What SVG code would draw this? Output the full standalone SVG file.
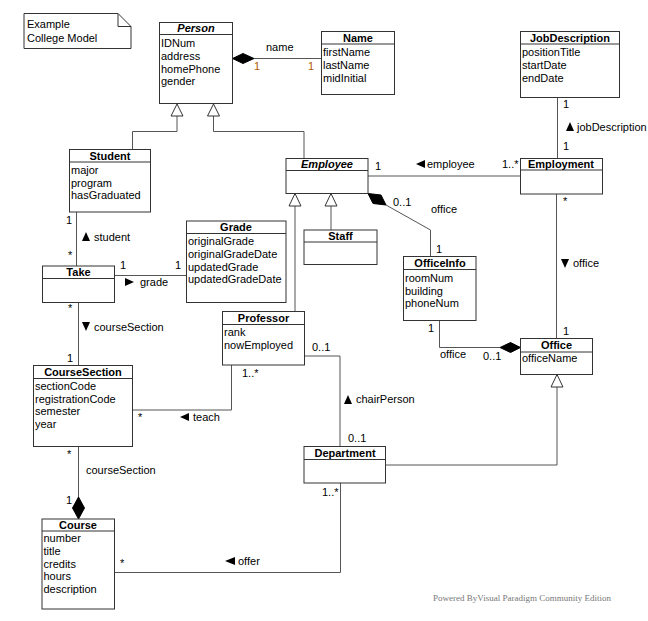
<svg xmlns="http://www.w3.org/2000/svg" width="648" height="621" viewBox="0 0 648 621">
<defs>
<style>
text{font-family:"Liberation Sans",Arial,sans-serif;font-size:11px;fill:#000}
.t{font-weight:bold;text-anchor:middle}
.ti{font-weight:bold;font-style:italic;text-anchor:middle}
.box{fill:#fff;stroke:#333;stroke-width:1}
.div{stroke:#333;stroke-width:1}
.ln{fill:none;stroke:#555;stroke-width:1}
.gen{fill:#fff;stroke:#333;stroke-width:1}
.dia{fill:#000;stroke:#000;stroke-width:1}
.or{fill:#b05a00}
.wm{font-family:"Liberation Serif","Times New Roman",serif;font-size:9px;fill:#777}
</style>
</defs>
<rect width="648" height="621" fill="#fff"/>

<g id="connectors">
<path class="ln" d="M177,116 V131.5 H132.5 V149.5"/>
<path class="ln" d="M213.5,116 V131.5 H304 V158.5"/>
<polygon class="gen" points="177,104 171,116 183,116"/>
<polygon class="gen" points="213.5,104 207.5,116 219.5,116"/>
<path class="ln" d="M254,58.5 H321.5"/>
<polygon class="dia" points="232.5,58.5 243,53.5 254,58.5 243,63.5"/>
<path class="ln" d="M557.5,97.5 V158.5"/>
<path class="ln" d="M368,176 H520.5"/>
<path class="ln" d="M556.5,194 V338.5"/>
<path class="ln" d="M386,205 L430.5,230 V256.5"/>
<polygon class="dia" points="368,193.5 381,195 386,205 373,203.5"/>
<path class="ln" d="M295,206 V311.5"/>
<path class="ln" d="M331,206 V230"/>
<polygon class="gen" points="295,193.5 289,206 301,206"/>
<polygon class="gen" points="331,193.5 325,206 337,206"/>
<path class="ln" d="M439.5,320.5 V347.5 H500"/>
<polygon class="dia" points="500,347.5 510.5,342.5 520.5,347.5 510.5,352.5"/>
<path class="ln" d="M385.5,465 H557 V387"/>
<polygon class="gen" points="557,374.5 551,387 563,387"/>
<path class="ln" d="M76.5,212 V266"/>
<path class="ln" d="M114.5,275.5 H186.5"/>
<path class="ln" d="M78.5,302.5 V365.5"/>
<path class="ln" d="M231.5,365 V410 H132.5"/>
<path class="ln" d="M304.5,356 H340 V446.5"/>
<path class="ln" d="M78.5,446.5 V497"/>
<polygon class="dia" points="78.5,497 72.5,508 78.5,519 84.5,508"/>
<path class="ln" d="M114.5,572.5 H340.5 V483"/>
</g>

<g id="labels">
<text x="266" y="51">name</text>
<text class="or" x="254" y="70">1</text>
<text class="or" x="308" y="70">1</text>

<text x="563" y="108">1</text>
<polygon points="566,131 570,122 574,131" fill="#000"/>
<text x="577" y="131">jobDescription</text>
<text x="563" y="150">1</text>

<text x="375" y="170">1</text>
<polygon points="416,164 425,160 425,168" fill="#000"/>
<text x="427" y="168">employee</text>
<text x="502" y="168">1..*</text>

<text x="393" y="206">0..1</text>
<text x="431" y="213">office</text>
<text x="436" y="253">1</text>

<text x="563" y="205">*</text>
<polygon points="561,259 569,259 565,268" fill="#000"/>
<text x="573" y="267">office</text>
<text x="563" y="335">1</text>

<text x="428" y="332">1</text>
<text x="440" y="358">office</text>
<text x="483" y="360">0..1</text>

<text x="66" y="224">1</text>
<polygon points="82,241 86,232 90,241" fill="#000"/>
<text x="94" y="241">student</text>
<text x="68" y="259">*</text>

<text x="120" y="269">1</text>
<text x="175" y="269">1</text>
<polygon points="125,278 125,286 134,282" fill="#000"/>
<text x="140" y="286">grade</text>

<text x="68" y="312">*</text>
<polygon points="82,322 90,322 86,331" fill="#000"/>
<text x="94" y="331">courseSection</text>
<text x="67" y="362">1</text>

<text x="242" y="377">1..*</text>
<text x="138" y="421">*</text>
<polygon points="180,417 189,413 189,421" fill="#000"/>
<text x="193" y="421">teach</text>

<text x="312" y="351">0..1</text>
<polygon points="344,404 348,395 352,404" fill="#000"/>
<text x="356" y="403">chairPerson</text>
<text x="348" y="442">0..1</text>

<text x="67" y="458">*</text>
<text x="86" y="474">courseSection</text>
<text x="66" y="504">1</text>

<text x="120" y="567">*</text>
<polygon points="225,561 235,557 235,565" fill="#000"/>
<text x="238" y="565">offer</text>
<text x="322" y="496">1..*</text>
</g>

<g id="note">
<path d="M24,13.5 H118 L131,26.5 V48.5 H24 Z" fill="#fff" stroke="#333"/>
<path d="M118,13.5 V26.5 H131" fill="none" stroke="#333"/>
<text x="27" y="28">Example</text>
<text x="27" y="42">College Model</text>
</g>

<g id="Person">
<rect class="box" x="159.5" y="22.5" width="73" height="81"/>
<line class="div" x1="159.5" y1="34.5" x2="232.5" y2="34.5"/>
<text class="ti" x="196" y="32">Person</text>
<text x="161" y="47">IDNum</text>
<text x="161" y="60">address</text>
<text x="161" y="73">homePhone</text>
<text x="161" y="85">gender</text>
</g>

<g id="Name">
<rect class="box" x="321.5" y="31.5" width="73" height="63"/>
<line class="div" x1="321.5" y1="44" x2="394.5" y2="44"/>
<text class="t" x="358" y="42">Name</text>
<text x="323" y="56">firstName</text>
<text x="323" y="69">lastName</text>
<text x="323" y="82">midInitial</text>
</g>

<g id="JobDescription">
<rect class="box" x="520.5" y="31.5" width="99" height="66"/>
<line class="div" x1="520.5" y1="44" x2="619.5" y2="44"/>
<text class="t" x="570" y="42">JobDescription</text>
<text x="522" y="56">positionTitle</text>
<text x="522" y="69">startDate</text>
<text x="522" y="82">endDate</text>
</g>

<g id="Student">
<rect class="box" x="69.5" y="149.5" width="81" height="62.5"/>
<line class="div" x1="69.5" y1="162" x2="150.5" y2="162"/>
<text class="t" x="110" y="160">Student</text>
<text x="71" y="174">major</text>
<text x="71" y="187">program</text>
<text x="71" y="199">hasGraduated</text>
</g>

<g id="Employee">
<rect class="box" x="286" y="158.5" width="82" height="35"/>
<line class="div" x1="286" y1="170.5" x2="368" y2="170.5"/>
<text class="ti" x="327" y="168">Employee</text>
</g>

<g id="Employment">
<rect class="box" x="520.5" y="158.5" width="82" height="35.5"/>
<line class="div" x1="520.5" y1="170" x2="602.5" y2="170"/>
<text class="t" x="561" y="168">Employment</text>
</g>

<g id="Staff">
<rect class="box" x="304" y="230" width="73" height="34.5"/>
<line class="div" x1="304" y1="242" x2="377" y2="242"/>
<text class="t" x="340.5" y="240">Staff</text>
</g>

<g id="Grade">
<rect class="box" x="186.5" y="221" width="99.5" height="81.5"/>
<line class="div" x1="186.5" y1="233.5" x2="286" y2="233.5"/>
<text class="t" x="236" y="231">Grade</text>
<text x="188" y="245">originalGrade</text>
<text x="188" y="258">originalGradeDate</text>
<text x="188" y="271">updatedGrade</text>
<text x="188" y="283">updatedGradeDate</text>
</g>

<g id="Take">
<rect class="box" x="42.5" y="266" width="72" height="36.5"/>
<line class="div" x1="42.5" y1="278.5" x2="114.5" y2="278.5"/>
<text class="t" x="78.5" y="276">Take</text>
</g>

<g id="OfficeInfo">
<rect class="box" x="403.5" y="256.5" width="72.5" height="64"/>
<line class="div" x1="403.5" y1="269.5" x2="476" y2="269.5"/>
<text class="t" x="440" y="267">OfficeInfo</text>
<text x="405" y="282">roomNum</text>
<text x="405" y="295">building</text>
<text x="405" y="307">phoneNum</text>
</g>

<g id="Professor">
<rect class="box" x="222.5" y="311.5" width="82" height="53.5"/>
<line class="div" x1="222.5" y1="324.5" x2="304.5" y2="324.5"/>
<text class="t" x="263.5" y="322">Professor</text>
<text x="224" y="336">rank</text>
<text x="224" y="349">nowEmployed</text>
</g>

<g id="Office">
<rect class="box" x="520.5" y="338.5" width="72" height="36"/>
<line class="div" x1="520.5" y1="352" x2="592.5" y2="352"/>
<text class="t" x="556.5" y="349">Office</text>
<text x="522" y="362">officeName</text>
</g>

<g id="CourseSection">
<rect class="box" x="33.5" y="365.5" width="99" height="81"/>
<line class="div" x1="33.5" y1="378.5" x2="132.5" y2="378.5"/>
<text class="t" x="83" y="376">CourseSection</text>
<text x="35" y="390">sectionCode</text>
<text x="35" y="403">registrationCode</text>
<text x="35" y="415">semester</text>
<text x="35" y="428">year</text>
</g>

<g id="Department">
<rect class="box" x="304" y="446.5" width="81.5" height="36.5"/>
<line class="div" x1="304" y1="459.5" x2="385.5" y2="459.5"/>
<text class="t" x="345" y="457">Department</text>
</g>

<g id="Course">
<rect class="box" x="42" y="519" width="72.5" height="90"/>
<line class="div" x1="42" y1="531" x2="114.5" y2="531"/>
<text class="t" x="78" y="529">Course</text>
<text x="43.5" y="542">number</text>
<text x="43.5" y="555">title</text>
<text x="43.5" y="568">credits</text>
<text x="43.5" y="580">hours</text>
<text x="43.5" y="593">description</text>
</g>

<text class="wm" x="433" y="601">Powered ByVisual Paradigm Community Edition</text>
</svg>
